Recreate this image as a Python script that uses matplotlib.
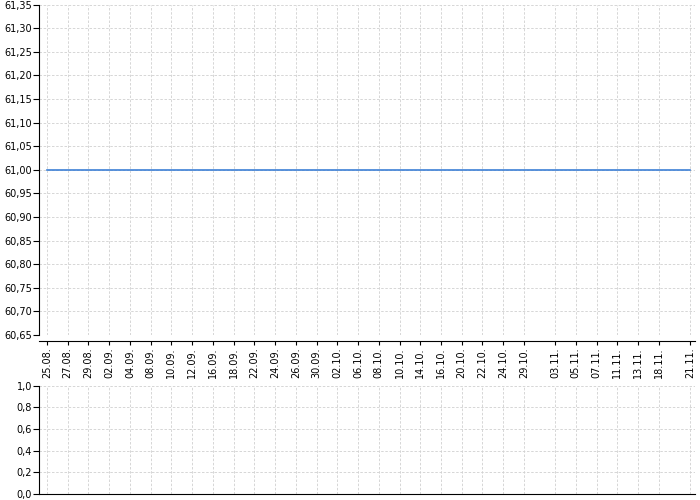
import matplotlib
matplotlib.use('Agg')
import matplotlib.pyplot as plt
from matplotlib.ticker import FuncFormatter

# Trading-day index of each labelled date (holidays 28.10 and 17.11 skipped)
tick_labels = ['25.08.', '27.08.', '29.08.', '02.09.', '04.09.', '08.09.', '10.09.',
               '12.09.', '16.09.', '18.09.', '22.09.', '24.09.', '26.09.', '30.09.',
               '02.10.', '06.10.', '08.10.', '10.10.', '14.10.', '16.10.', '20.10.',
               '22.10.', '24.10.', '29.10.', '03.11.', '05.11.', '07.11.', '11.11.',
               '13.11.', '18.11.', '21.11.']
tick_idx = [0, 2, 4, 6, 8, 10, 12, 14, 16, 18, 20, 22, 24, 26, 28, 30, 32, 34, 36,
            38, 40, 42, 44, 46, 49, 51, 53, 55, 57, 59, 62]

# Closing price for each trading day (flat at 61,00)
days = list(range(63))
prices = [61.00] * 63

price_ticks = [60.65, 60.70, 60.75, 60.80, 60.85, 60.90, 60.95, 61.00,
               61.05, 61.10, 61.15, 61.20, 61.25, 61.30, 61.35]
vol_ticks = [0.0, 0.2, 0.4, 0.6, 0.8, 1.0]

grid_kw = dict(color='#d0d0d0', linestyle=(0, (3, 2)), linewidth=0.6)

fig = plt.figure(figsize=(7, 5), dpi=100)
ax = fig.add_axes([39 / 700, 1 - 335 / 500, 656 / 700, 330.5 / 500])
ax_v = fig.add_axes([39 / 700, 1 - 494 / 500, 656 / 700, 108.3 / 500])

ax.plot(days, prices, color='#3d80d6', linewidth=1.2, zorder=3)

for a in (ax, ax_v):
    a.set_xlim(-0.77, 62.5)
    a.set_xticks(tick_idx)
    a.grid(True, **grid_kw)
    a.set_axisbelow(True)
    a.spines['top'].set_visible(False)
    a.spines['right'].set_visible(False)
    a.tick_params(labelsize=7, length=4, width=0.8, pad=1)

ax.set_ylim(60.65, 61.35)
ax.set_yticks(price_ticks)
ax.yaxis.set_major_formatter(FuncFormatter(lambda v, p: f'{v:.2f}'.replace('.', ',')))
ax.set_xticklabels(tick_labels)
ax.spines['bottom'].set_position(('outward', 4))
ax.tick_params(axis='x', length=3, pad=2, labelrotation=90)

ax_v.set_ylim(0, 1)
ax_v.set_yticks(vol_ticks)
ax_v.yaxis.set_major_formatter(FuncFormatter(lambda v, p: f'{v:.1f}'.replace('.', ',')))
ax_v.tick_params(axis='x', length=0, labelbottom=False)

fig.savefig('out.png', dpi=100)
